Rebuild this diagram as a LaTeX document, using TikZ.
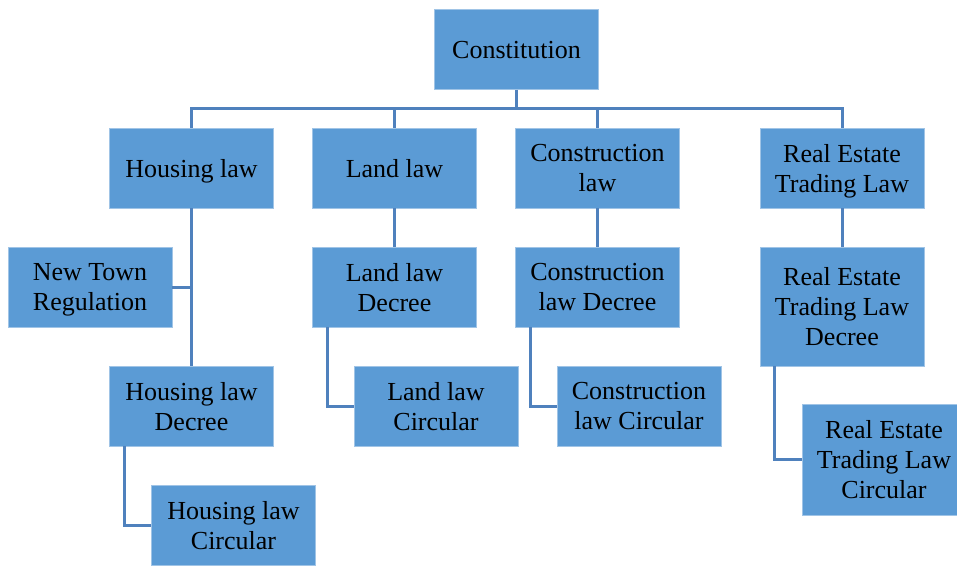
\documentclass[tikz,border=0pt]{standalone}
\usepackage{fontspec}
\setmainfont{Liberation Serif}
\definecolor{boxfill}{RGB}{91,155,213}
\definecolor{boxborder}{RGB}{160,196,230}
\definecolor{linkcol}{RGB}{79,129,189}
\begin{document}
\begin{tikzpicture}[x=1pt,y=-1pt,
  box/.style={draw=boxborder, line width=0.8pt, fill=boxfill, inner sep=0pt,
    align=center, minimum width=164pt, minimum height=80pt,
    font=\fontsize{26}{30}\selectfont, text=black,
    execute at begin node={\rule{0pt}{0pt}\vspace*{-1pt}}, text depth=0pt},
  nudge/.style={yshift=-2.5pt},
  link/.style={draw=linkcol, line width=3pt}]
\useasboundingbox (0,0) rectangle (957,565);
\node[box] (const) at (516.5,49.5) {Constitution};
\node[box] (housing) at (191.5,168) {Housing law};
\node[box] (land) at (394.5,168) {Land law};
\node[box] (constr) at (597.5,168) {Construction\\law};
\node[box] (retl) at (842,168) {Real Estate\\Trading Law};
\node[box] (ntr) at (90,287) {New Town\\Regulation};
\node[box] (hdec) at (191.5,406) {Housing law\\Decree};
\node[box] (hcirc) at (233.5,525) {Housing law\\Circular};
\node[box] (ldec) at (394.5,287) {Land law\\Decree};
\node[box] (lcirc) at (436,406) {Land law\\Circular};
\node[box] (cdec) at (597.5,287) {Construction\\law Decree};
\node[box] (ccirc) at (639,406) {Construction\\law Circular};
\node[box, minimum height=119pt] (rdec) at (842,306.5) {Real Estate\\Trading Law\\Decree};
\node[box, minimum height=111pt] (rcirc) at (884,459.5) {Real Estate\\Trading Law\\Circular};
\coordinate (bus) at (516.5,108);
\draw[link] (const.south) -- (bus);
\draw[link] (housing.north) -- (housing.north |- bus) -- (retl.north |- bus) -- (retl.north);
\draw[link] (land.north) -- (land.north |- bus);
\draw[link] (constr.north) -- (constr.north |- bus);
\draw[link] (housing.south) -- (hdec.north);
\draw[link] (ntr.east) -- (ntr.east -| housing.south);
\draw[link] ([xshift=15pt]hdec.south west) |- (hcirc.west);
\draw[link] (land.south) -- (ldec.north);
\draw[link] ([xshift=15pt]ldec.south west) |- (lcirc.west);
\draw[link] (constr.south) -- (cdec.north);
\draw[link] ([xshift=15pt]cdec.south west) |- (ccirc.west);
\draw[link] (retl.south) -- (rdec.north);
\draw[link] ([xshift=15pt]rdec.south west) |- (rcirc.west);
\end{tikzpicture}
\end{document}
